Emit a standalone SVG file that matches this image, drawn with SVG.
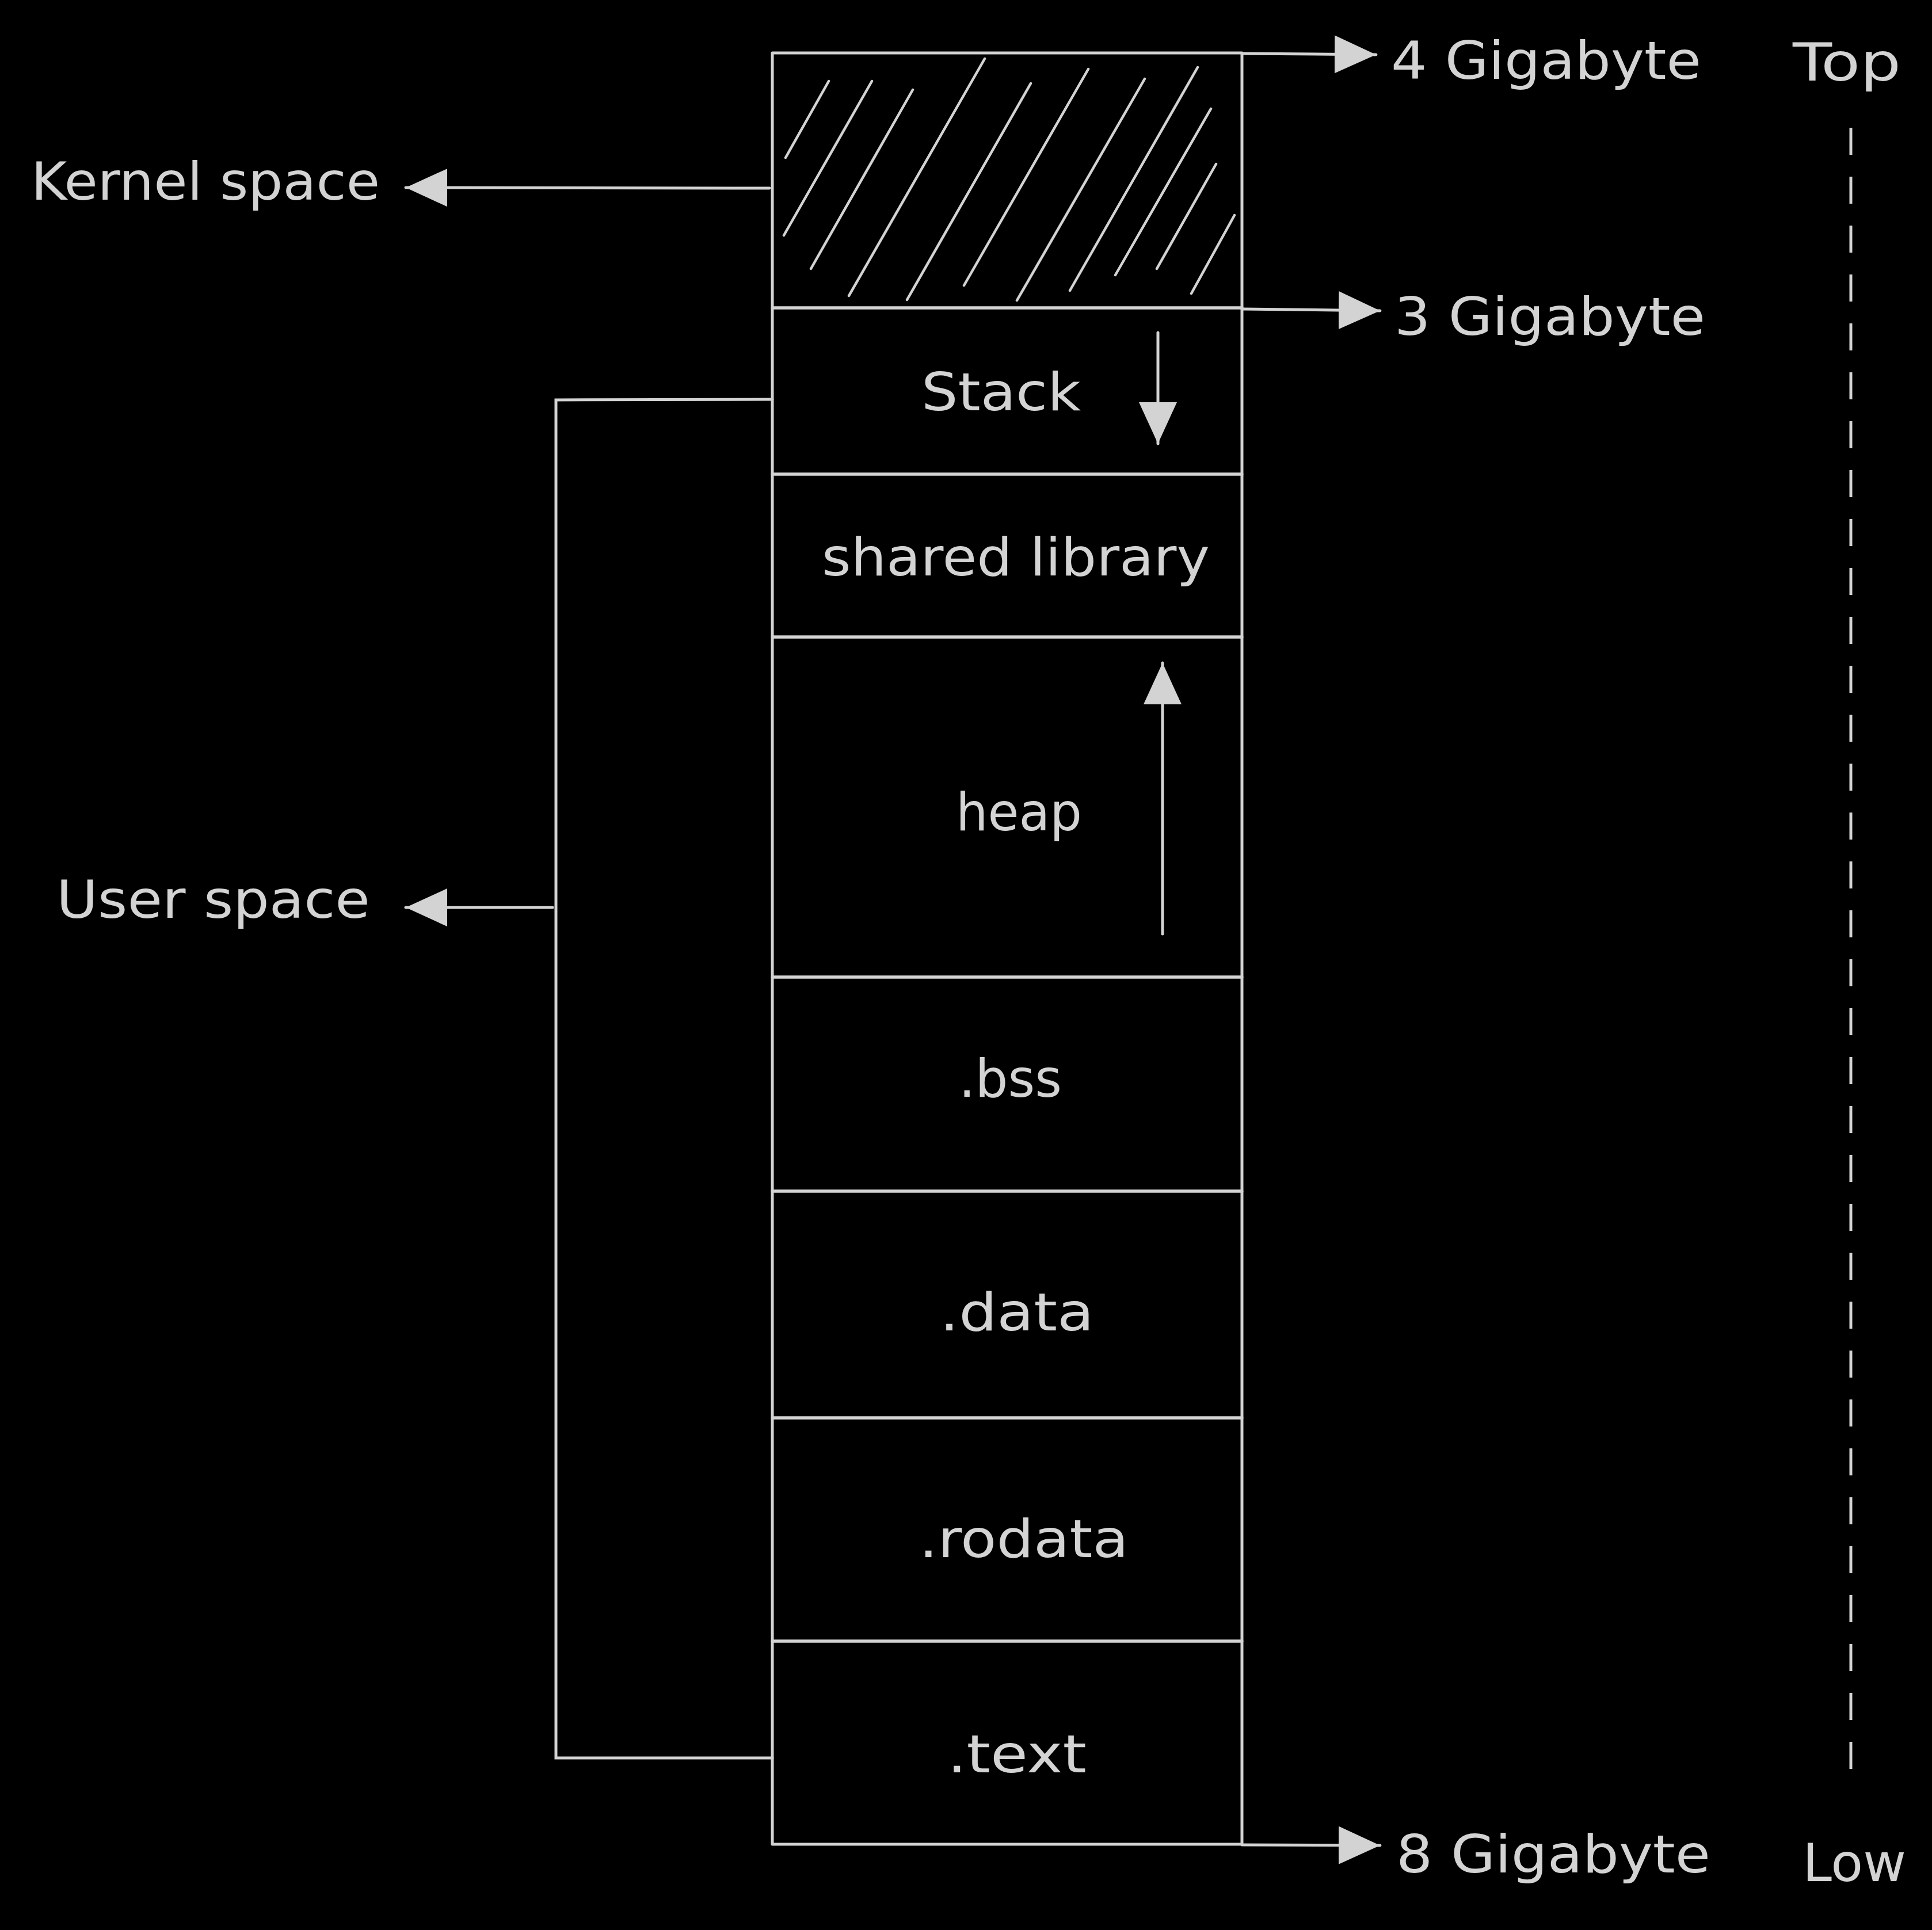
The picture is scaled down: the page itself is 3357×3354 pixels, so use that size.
<svg xmlns="http://www.w3.org/2000/svg" width="3357" height="3354" viewBox="0 0 3357 3354">
<style>
  .seg { fill: none; stroke: #d3d3d3; stroke-width: 5; stroke-linejoin: round; }
  .hatch { stroke: #d3d3d3; stroke-width: 4.5; stroke-linecap: round; fill: none; }
  .conn { fill: none; stroke: #d3d3d3; stroke-width: 5; stroke-linecap: round; }
  .lbl { font-family: "DejaVu Sans", "Liberation Sans", sans-serif; font-size: 90px; fill: #d3d3d3; }
  .dash { fill: none; stroke: #d3d3d3; stroke-width: 5; stroke-dasharray: 47 38; }
</style>
<defs>
  <marker id="ah" markerUnits="userSpaceOnUse" viewBox="0 0 72 66" markerWidth="72" markerHeight="66" refX="72" refY="33" orient="auto">
    <path d="M0,0 L72,33 L0,66 Z" fill="#d3d3d3"/>
  </marker>
</defs>
<rect x="0" y="0" width="3357" height="3354" fill="#000000"/>

<g id="kernel-segment">
  <rect class="seg" x="1342" y="92" width="816" height="443"/>
  <line class="hatch" x1="1440" y1="141" x2="1365" y2="274"/>
  <line class="hatch" x1="1515" y1="141" x2="1362" y2="409"/>
  <line class="hatch" x1="1586" y1="156" x2="1409" y2="467"/>
  <line class="hatch" x1="1711" y1="102" x2="1475" y2="514"/>
  <line class="hatch" x1="1791" y1="145" x2="1576" y2="521"/>
  <line class="hatch" x1="1891" y1="120" x2="1675" y2="496"/>
  <line class="hatch" x1="1989" y1="137" x2="1767" y2="522"/>
  <line class="hatch" x1="2081" y1="117" x2="1859" y2="505"/>
  <line class="hatch" x1="2104" y1="189" x2="1938" y2="478"/>
  <line class="hatch" x1="2113" y1="285" x2="2010" y2="467"/>
  <line class="hatch" x1="2145" y1="374" x2="2070" y2="510"/>
</g>

<g id="stack-segment">
  <rect class="seg" x="1342" y="535" width="816" height="289"/>
  <text class="lbl" x="1601" y="713" textLength="277" lengthAdjust="spacingAndGlyphs">Stack</text>
</g>

<g id="shared-library-segment">
  <rect class="seg" x="1342" y="824" width="816" height="283"/>
  <text class="lbl" x="1428" y="1000" textLength="674" lengthAdjust="spacingAndGlyphs">shared library</text>
</g>

<g id="heap-segment">
  <rect class="seg" x="1342" y="1107" width="816" height="591"/>
  <text class="lbl" x="1661" y="1443" textLength="219" lengthAdjust="spacingAndGlyphs">heap</text>
</g>

<g id="bss-segment">
  <rect class="seg" x="1342" y="1698" width="816" height="372"/>
  <text class="lbl" x="1666" y="1906" textLength="179" lengthAdjust="spacingAndGlyphs">.bss</text>
</g>

<g id="data-segment">
  <rect class="seg" x="1342" y="2070" width="816" height="394"/>
  <text class="lbl" x="1633" y="2312" textLength="268" lengthAdjust="spacingAndGlyphs">.data</text>
</g>

<g id="rodata-segment">
  <rect class="seg" x="1342" y="2464" width="816" height="388"/>
  <text class="lbl" x="1597" y="2706" textLength="364" lengthAdjust="spacingAndGlyphs">.rodata</text>
</g>

<g id="text-segment">
  <rect class="seg" x="1342" y="2852" width="816" height="353"/>
  <text class="lbl" x="1646" y="3080" textLength="242" lengthAdjust="spacingAndGlyphs">.text</text>
</g>

<g id="label-4gb"><text class="lbl" x="2417" y="137" textLength="539" lengthAdjust="spacingAndGlyphs">4 Gigabyte</text></g>
<g id="label-3gb"><text class="lbl" x="2423" y="582" textLength="540" lengthAdjust="spacingAndGlyphs">3 Gigabyte</text></g>
<g id="label-8gb"><text class="lbl" x="2426" y="3254" textLength="546" lengthAdjust="spacingAndGlyphs">8 Gigabyte</text></g>
<g id="label-top"><text class="lbl" x="3115" y="140" textLength="188" lengthAdjust="spacingAndGlyphs">Top</text></g>
<g id="label-low"><text class="lbl" x="3132" y="3269" textLength="180" lengthAdjust="spacingAndGlyphs">Low</text></g>
<g id="label-kernel"><text class="lbl" x="54" y="347" textLength="606" lengthAdjust="spacingAndGlyphs">Kernel space</text></g>
<g id="label-user"><text class="lbl" x="98" y="1595" textLength="545" lengthAdjust="spacingAndGlyphs">User space</text></g>

<g id="connectors">
  <path class="conn" d="M2158,93 L2391,95" marker-end="url(#ah)"/>
  <path class="conn" d="M2160,537 L2398,540" marker-end="url(#ah)"/>
  <path class="conn" d="M2158,3206 L2398,3207" marker-end="url(#ah)"/>
  <path class="conn" d="M1337,327 L705,326" marker-end="url(#ah)"/>
  <path class="conn" d="M1342,694 L966,695 L966,3055 L1342,3055"/>
  <path class="conn" d="M960,1577 L705,1577" marker-end="url(#ah)"/>
  <path class="conn" d="M2012,578 L2012,771" marker-end="url(#ah)"/>
  <path class="conn" d="M2020,1623 L2020,1152" marker-end="url(#ah)"/>
  <path class="dash" d="M3216,222 L3216,3077"/>
</g>
</svg>
